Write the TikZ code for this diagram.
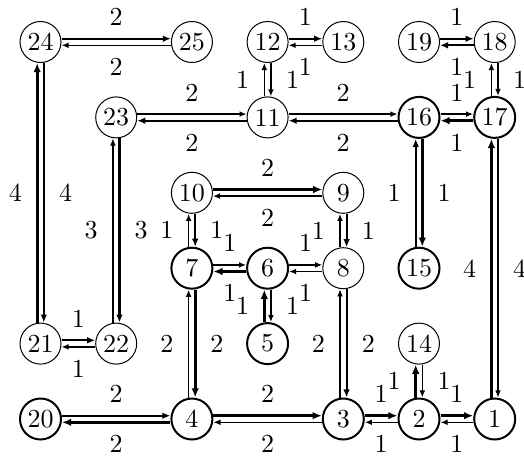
\documentclass[tikz,border=0pt]{standalone}
\usepackage{fontspec}
\setmainfont{lmroman10-regular.otf}
\usetikzlibrary{arrows.meta}
\tikzset{
  nd/.style={circle, draw, line width=1pt, minimum size=41pt, inner sep=0pt, font=\fontsize{26pt}{30pt}\selectfont},
  ndk/.style={nd, line width=2pt},
  lab/.style={inner sep=0pt, font=\fontsize{26pt}{30pt}\selectfont},
  ed/.style={-{Latex[length=5pt 1.4, width=4pt 1.2]}},
  t/.style={ed, line width=1.5pt},
  m/.style={ed, line width=2.2pt},
  k/.style={ed, line width=3pt},
}
% horizontal pair: #1 left, #2 right, #3 style L->R (upper), #4 style R->L (lower), #5 label
\newcommand\hpair[5]{%
  \draw[#3] ([yshift=3.3pt]#1.east) -- node[lab, yshift=21.7pt]{#5} ([yshift=3.3pt]#2.west);
  \draw[#4] ([yshift=-3.3pt]#2.west) -- node[lab, yshift=-21.7pt]{#5} ([yshift=-3.3pt]#1.east);
}
% vertical pair: #1 bottom, #2 top, #3 style up (left), #4 style down (right), #5 label
\newcommand\vpair[5]{%
  \draw[#3] ([xshift=-3.3pt]#1.north) -- node[lab, xshift=-21.7pt]{#5} ([xshift=-3.3pt]#2.south);
  \draw[#4] ([xshift=3.3pt]#2.south) -- node[lab, xshift=21.7pt]{#5} ([xshift=3.3pt]#1.north);
}
\begin{document}
\begin{tikzpicture}[x=1pt, y=-1pt]
\useasboundingbox (0,0) rectangle (524,455);
\def\cA{40.5}\def\cB{116.2}\def\cC{191.9}\def\cD{267.6}\def\cE{343.3}\def\cF{419}\def\cG{494.7}
\def\rA{42}\def\rB{117.4}\def\rC{192.8}\def\rD{268.2}\def\rE{343.6}\def\rF{419}
\node[nd]  (n24) at (\cA,\rA) {24};
\node[nd]  (n25) at (\cC,\rA) {25};
\node[nd]  (n12) at (\cD,\rA) {12};
\node[nd]  (n13) at (\cE,\rA) {13};
\node[nd]  (n19) at (\cF,\rA) {19};
\node[nd]  (n18) at (\cG,\rA) {18};
\node[nd]  (n23) at (\cB,\rB) {23};
\node[nd]  (n11) at (\cD,\rB) {11};
\node[ndk] (n16) at (\cF,\rB) {16};
\node[ndk] (n17) at (\cG,\rB) {17};
\node[nd]  (n10) at (\cC,\rC) {10};
\node[nd]  (n9)  at (\cE,\rC) {9};
\node[ndk] (n7)  at (\cC,\rD) {7};
\node[ndk] (n6)  at (\cD,\rD) {6};
\node[nd]  (n8)  at (\cE,\rD) {8};
\node[ndk] (n15) at (\cF,\rD) {15};
\node[nd]  (n21) at (\cA,\rE) {21};
\node[nd]  (n22) at (\cB,\rE) {22};
\node[ndk] (n5)  at (\cD,\rE) {5};
\node[nd]  (n14) at (\cF,\rE) {14};
\node[ndk] (n20) at (\cA,\rF) {20};
\node[ndk] (n4)  at (\cC,\rF) {4};
\node[ndk] (n3)  at (\cE,\rF) {3};
\node[ndk] (n2)  at (\cF,\rF) {2};
\node[ndk] (n1)  at (\cG,\rF) {1};
% horizontal pairs
\hpair{n24}{n25}{m}{t}{2}
\hpair{n12}{n13}{m}{t}{1}
\hpair{n19}{n18}{m}{m}{1}
\hpair{n23}{n11}{t}{m}{2}
\hpair{n11}{n16}{t}{m}{2}
\hpair{n16}{n17}{t}{k}{1}
\hpair{n10}{n9}{k}{t}{2}
\hpair{n7}{n6}{t}{k}{1}
\hpair{n6}{n8}{t}{t}{1}
\hpair{n21}{n22}{m}{t}{1}
\hpair{n20}{n4}{m}{k}{2}
\hpair{n4}{n3}{k}{t}{2}
\hpair{n3}{n2}{k}{t}{1}
\hpair{n2}{n1}{k}{t}{1}
% vertical pairs
\vpair{n21}{n24}{k}{m}{4}
\vpair{n22}{n23}{t}{m}{3}
\vpair{n11}{n12}{t}{t}{1}
\vpair{n17}{n18}{t}{t}{1}
\vpair{n15}{n16}{m}{k}{1}
\vpair{n1}{n17}{k}{t}{4}
\vpair{n7}{n10}{t}{m}{1}
\vpair{n8}{n9}{t}{m}{1}
\vpair{n5}{n6}{k}{t}{1}
\vpair{n4}{n7}{t}{k}{2}
\vpair{n3}{n8}{t}{m}{2}
\vpair{n2}{n14}{k}{t}{1}
\end{tikzpicture}
\end{document}
